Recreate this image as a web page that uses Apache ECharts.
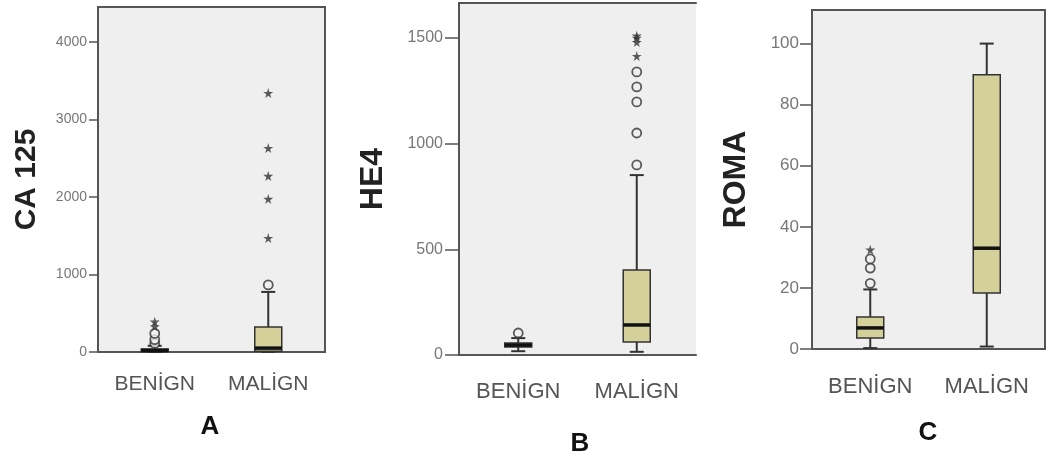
<!DOCTYPE html>
<html>
<head>
<meta charset="utf-8">
<script src="https://cdn.jsdelivr.net/npm/echarts@6/dist/echarts.min.js"></script>
<style>
html, body { margin: 0; padding: 0; background: #fff; }
#main { width: 1049px; height: 465px; }
</style>
</head>
<body>
<div id="main"></div>
<script>
// gruplar
var categories = ['BENİGN', 'MALİGN'];

// [min, Q1, median, Q3, max]
var caBenign = [0, 5, 20, 40, 80];
var caMalign = [0, 10, 50, 323, 775];
var caBenignCircles = [110, 160, 240];
var caBenignStars = [330, 390];
var caMalignCircles = [865];
var caMalignStars = [1470, 1975, 2270, 2630, 3340];

var heBenign = [18, 38, 47, 57, 80];
var heMalign = [15, 62, 142, 402, 851];
var heBenignCircles = [104];
var heBenignStars = [];
var heMalignCircles = [899, 1050, 1197, 1268, 1339];
var heMalignStars = [1414, 1480, 1500, 1510];

var romaBenign = [0.3, 3.6, 6.9, 10.5, 19.5];
var romaMalign = [0.8, 18.3, 33, 89.8, 100];
var romaBenignCircles = [21.5, 26.5, 29.5];
var romaBenignStars = [32.5];
var romaMalignCircles = [];
var romaMalignStars = [];

// eksen etiketleri
var caTicks = [0, 1000, 2000, 3000, 4000];
var heTicks = [0, 500, 1000, 1500];
var romaTicks = [0, 20, 40, 60, 80, 100];

var chart = echarts.init(document.getElementById('main'));

var STAR = 'path://M50,0 L61,35 L98,35 L68,57 L79,91 L50,70 L21,91 L32,57 L2,35 L39,35 Z';
var FONT = 'Liberation Sans';

function renderBox(params, api) {
    var x = api.value(0);
    var pMin = api.coord([x, api.value(1)]);
    var pQ1 = api.coord([x, api.value(2)]);
    var pMed = api.coord([x, api.value(3)]);
    var pQ3 = api.coord([x, api.value(4)]);
    var pMax = api.coord([x, api.value(5)]);
    var cx = pMin[0], hw = 13.5, cw = 7;
    var line = {stroke: '#333', lineWidth: 2};
    return {
        type: 'group',
        children: [
            {type: 'line', shape: {x1: cx, y1: pMin[1], x2: cx, y2: pQ1[1]}, style: line},
            {type: 'line', shape: {x1: cx, y1: pQ3[1], x2: cx, y2: pMax[1]}, style: line},
            {type: 'line', shape: {x1: cx - cw, y1: pMin[1], x2: cx + cw, y2: pMin[1]}, style: line},
            {type: 'line', shape: {x1: cx - cw, y1: pMax[1], x2: cx + cw, y2: pMax[1]}, style: line},
            {type: 'rect', shape: {x: cx - hw, y: pQ3[1], width: hw * 2, height: pQ1[1] - pQ3[1]},
                style: {fill: '#d4d09a', stroke: '#333', lineWidth: 1.5}},
            {type: 'line', shape: {x1: cx - hw, y1: pMed[1], x2: cx + hw, y2: pMed[1]},
                style: {stroke: '#111', lineWidth: 3.5}}
        ]
    };
}

function points(list0, list1) {
    var d = [];
    for (var i = 0; i < list0.length; i++) d.push([0, list0[i]]);
    for (var j = 0; j < list1.length; j++) d.push([1, list1[j]]);
    return d;
}

var panels = [
    {name: 'CA 125', box: [caBenign, caMalign], circ: [caBenignCircles, caMalignCircles], star: [caBenignStars, caMalignStars],
        ticks: caTicks, max: 4450, tickLen: 9, labelSize: 14, labelMargin: 11, nameSize: 30, nameGap: 56, labelFont: 21, catMargin: 22},
    {name: 'HE4', box: [heBenign, heMalign], circ: [heBenignCircles, heMalignCircles], star: [heBenignStars, heMalignStars],
        ticks: heTicks, max: 1665, tickLen: 14, labelSize: 16, labelMargin: 16, nameSize: 32, nameGap: 70, labelFont: 22, catMargin: 26},
    {name: 'ROMA', box: [romaBenign, romaMalign], circ: [romaBenignCircles, romaMalignCircles], star: [romaBenignStars, romaMalignStars],
        ticks: romaTicks, max: 111, tickLen: 12, labelSize: 17, labelMargin: 13, nameSize: 32, nameGap: 60, labelFont: 22, catMargin: 27}
];

var grids = [
    {left: 98, top: 7, width: 227, height: 345},
    {left: 459, top: 3, width: 237, height: 352},
    {left: 812, top: 10, width: 233, height: 339}
];

var option = {
    backgroundColor: '#fff',
    animation: false,
    grid: [],
    xAxis: [],
    yAxis: [],
    series: [],
    graphic: [
        {type: 'text', x: 210, y: 427, style: {text: 'A', font: 'bold 26px ' + FONT, fill: '#111', align: 'center', verticalAlign: 'middle'}},
        {type: 'text', x: 580, y: 444, style: {text: 'B', font: 'bold 26px ' + FONT, fill: '#111', align: 'center', verticalAlign: 'middle'}},
        {type: 'text', x: 928, y: 433, style: {text: 'C', font: 'bold 26px ' + FONT, fill: '#111', align: 'center', verticalAlign: 'middle'}}
    ]
};

for (var p = 0; p < 3; p++) {
    var c = panels[p];
    var g = grids[p];
    option.grid.push({
        left: g.left, top: g.top, width: g.width, height: g.height,
        show: true, backgroundColor: '#efefef',
        borderColor: '#555', borderWidth: p === 1 ? 0 : 2
    });
    option.xAxis.push({
        type: 'category', gridIndex: p, data: categories,
        axisLine: {lineStyle: {color: '#555', width: 2}},
        axisTick: {alignWithLabel: true, length: 16, lineStyle: {color: '#555', width: 2}},
        axisLabel: {margin: c.catMargin, fontSize: c.labelFont, color: '#555', fontFamily: FONT}
    });
    option.yAxis.push({
        type: 'value', gridIndex: p, min: 0, max: c.max,
        name: c.name, nameLocation: 'middle', nameGap: c.nameGap, nameRotate: 90,
        nameTextStyle: {fontSize: c.nameSize, fontWeight: 'bold', color: '#222', fontFamily: FONT},
        splitLine: {show: false},
        axisLine: {show: true, lineStyle: {color: '#555', width: 2}},
        axisTick: {show: true, length: c.tickLen, customValues: c.ticks, lineStyle: {color: '#555', width: 1.5}},
        axisLabel: {customValues: c.ticks, fontSize: c.labelSize, color: '#777', margin: c.labelMargin, fontFamily: FONT,
            formatter: function (v) { return String(v); }}
    });
    option.series.push({
        type: 'custom', xAxisIndex: p, yAxisIndex: p,
        renderItem: renderBox,
        encode: {x: 0, y: [1, 2, 3, 4, 5]},
        data: [[0].concat(c.box[0]), [1].concat(c.box[1])],
        z: 3
    });
    option.series.push({
        type: 'scatter', xAxisIndex: p, yAxisIndex: p,
        symbol: 'circle', symbolSize: 9,
        itemStyle: {color: '#efefef', borderColor: '#333', borderWidth: 1.8},
        data: points(c.circ[0], c.circ[1]),
        z: 4
    });
    option.series.push({
        type: 'scatter', xAxisIndex: p, yAxisIndex: p,
        symbol: STAR, symbolSize: 10,
        itemStyle: {color: '#333'},
        data: points(c.star[0], c.star[1]),
        z: 5
    });
}

// B paneli: sadece ust cizgi (sag kenar kesik)
option.xAxis.push({
    type: 'category', gridIndex: 1, data: categories, position: 'top',
    axisLine: {lineStyle: {color: '#555', width: 2}},
    axisTick: {show: false}, axisLabel: {show: false}
});

chart.setOption(option);
</script>
</body>
</html>
